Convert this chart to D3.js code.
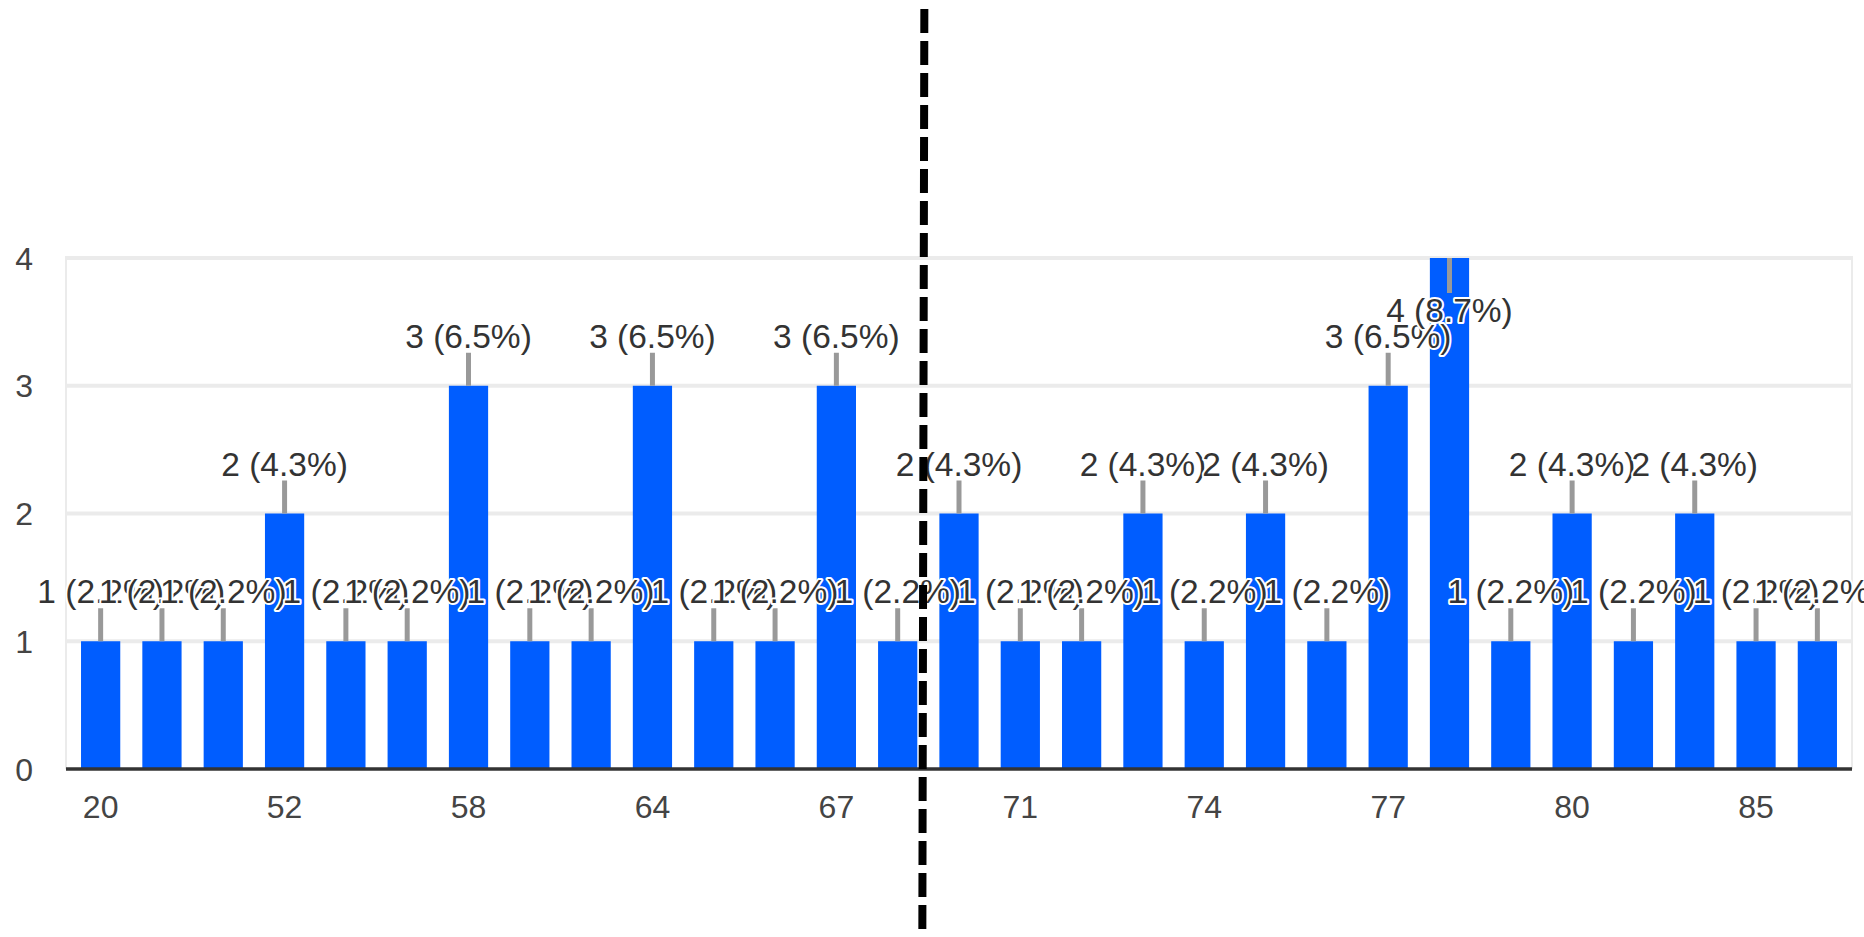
<!DOCTYPE html>
<html>
<head>
  <meta charset="utf-8"/>
  <title>Chart</title>
  <style type="text/css">
    body {
      padding:0;
      margin:0;
      background-color:white;
      font-family: "Liberation Sans", Arial, sans-serif;
    }
    svg { display:block; }
  </style>
  <script src="https://cdnjs.cloudflare.com/ajax/libs/d3/7.8.5/d3.min.js" charset="utf-8"></script>
</head>

<body>
  <script type="text/javascript">

  var w = 1864, h = 937;

  // DATA
  var categories = ["20","45","50","52","54","56","58","60","62","64","65","66","67","68","70",
                    "71","72","73","74","75","76","77","78","79","80","82","83","85","88"];
  var counts     = [1,1,1,2,1,1,3,1,1,3,1,1,3,1,2,
                    1,1,2,1,2,1,3,4,1,2,1,2,1,1];
  var xTickLabels = ["20","52","58","64","67","71","74","77","80","85"];
  var yTicks = [0,1,2,3,4];
  var splitAfter = "68"; // dashed line goes between this and the next category

  var total = d3.sum(counts);

  // COLORS
  var barBlue = "#005dff",
      gridGrey = "#ebebeb",
      axisDark = "#333333",
      textDark = "#333333",
      stemGrey = "#999999";

  var svg = d3.select("body").append("svg")
              .attr("width", w)
              .attr("height", h);

  var x = d3.scaleBand()
            .domain(categories)
            .range([66, 1852])
            .paddingInner(0.36)
            .paddingOuter(0.245);

  var y = d3.scaleLinear()
            .domain([0, 4])
            .range([769, 258]);

  var left = x.range()[0], right = x.range()[1];

  // gridlines
  svg.append("g").selectAll("line")
     .data(yTicks.filter(function(d){ return d > 0; }))
     .enter().append("line")
     .attr("x1", left).attr("x2", right)
     .attr("y1", function(d){ return y(d); })
     .attr("y2", function(d){ return y(d); })
     .style("stroke", gridGrey)
     .style("stroke-width", 4);

  // side borders
  svg.append("g").selectAll("line")
     .data([left, right])
     .enter().append("line")
     .attr("x1", function(d){ return d; }).attr("x2", function(d){ return d; })
     .attr("y1", y(4) - 2).attr("y2", y(0))
     .style("stroke", gridGrey)
     .style("stroke-width", 2);

  // y labels
  svg.append("g").selectAll("text")
     .data(yTicks)
     .enter().append("text")
     .attr("x", 33)
     .attr("y", function(d){ return y(d); })
     .attr("dy", "0.36em")
     .attr("text-anchor", "end")
     .style("font-size", "32px")
     .style("fill", "#444")
     .text(function(d){ return d; });

  // bars
  svg.append("g").selectAll("rect")
     .data(counts)
     .enter().append("rect")
     .attr("x", function(d, i){ return x(categories[i]); })
     .attr("width", x.bandwidth())
     .attr("y", function(d){ return y(d); })
     .attr("height", function(d){ return y(0) - y(d); })
     .style("fill", barBlue);

  // baseline
  svg.append("line")
     .attr("x1", left).attr("x2", right)
     .attr("y1", y(0)).attr("y2", y(0))
     .style("stroke", axisDark)
     .style("stroke-width", 3.5);

  // x labels
  svg.append("g").selectAll("text")
     .data(xTickLabels)
     .enter().append("text")
     .attr("x", function(d){ return x(d) + x.bandwidth()/2; })
     .attr("y", 818)
     .attr("text-anchor", "middle")
     .style("font-size", "32px")
     .style("fill", "#444")
     .text(function(d){ return d; });

  // annotations: stem + label, inside the bar if it would leave the plot
  var stemLen = 33, fontSize = 33.5;
  var ann = counts.map(function(d, i){
    var cx = x(categories[i]) + x.bandwidth()/2,
        top = y(d),
        inside = (top - stemLen - 5 - fontSize*0.72) < y.range()[1];
    return {
      cx: cx,
      y1: top,
      y2: inside ? top + stemLen + 2 : top - stemLen,
      ty: inside ? top + stemLen + 31 : top - stemLen - 5,
      label: d + " (" + (d / total * 100).toFixed(1) + "%)"
    };
  });

  svg.append("g").selectAll("line")
     .data(ann)
     .enter().append("line")
     .attr("x1", function(d){ return d.cx; }).attr("x2", function(d){ return d.cx; })
     .attr("y1", function(d){ return d.y1; })
     .attr("y2", function(d){ return d.y2; })
     .style("stroke", stemGrey)
     .style("stroke-width", 5);

  svg.append("g").selectAll("text")
     .data(ann)
     .enter().append("text")
     .attr("x", function(d){ return d.cx; })
     .attr("y", function(d){ return d.ty; })
     .attr("text-anchor", "middle")
     .style("font-size", fontSize + "px")
     .style("fill", textDark)
     .style("stroke", "white")
     .style("stroke-width", 4)
     .style("stroke-linejoin", "round")
     .style("paint-order", "stroke")
     .text(function(d){ return d.label; });

  // dashed divider
  var si = categories.indexOf(splitAfter);
  var splitX = (x(categories[si]) + x.bandwidth() + x(categories[si + 1])) / 2 - 4;
  svg.append("line")
     .attr("x1", splitX).attr("x2", splitX - 2)
     .attr("y1", 9).attr("y2", 930)
     .style("stroke", "black")
     .style("stroke-width", 8)
     .style("stroke-dasharray", "24 8");

  </script>
</body>
</html>
